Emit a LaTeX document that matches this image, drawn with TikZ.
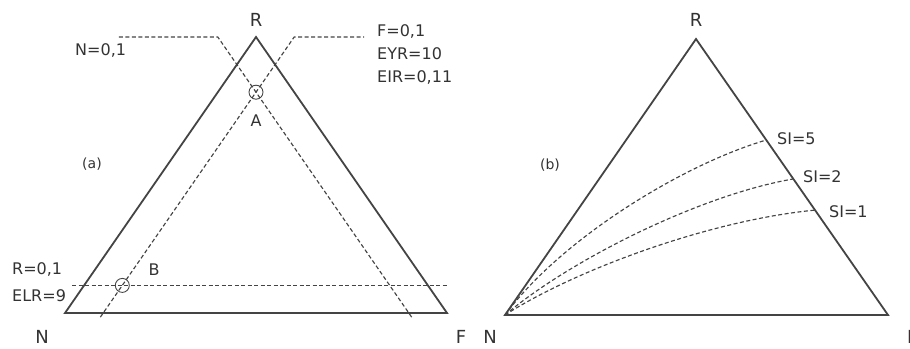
\documentclass[tikz,border=0pt]{standalone}
\usepackage{fontspec}
\setmainfont{DejaVu Sans}
\usepackage{xcolor}
\usetikzlibrary{calc,positioning}
\definecolor{ink}{HTML}{333333}
\definecolor{lne}{HTML}{444444}

\begin{document}
\begin{tikzpicture}[x=1pt, y=-1pt,
  tri/.style={draw=lne, line width=1.8pt},
  dsh/.style={draw=lne, line width=1.15pt, dash pattern=on 4pt off 2.5pt},
  ring/.style={draw=lne, line width=0.9pt},
  vlab/.style={font=\fontsize{18}{20}\selectfont, text=ink, inner sep=0pt},
  lab/.style={font=\fontsize{16}{23}\selectfont, text=ink, inner sep=0pt, align=left},
  tag/.style={font=\fontsize{14}{15}\selectfont, text=ink, inner sep=0pt}]
  \useasboundingbox (0,0) rectangle (910,348);
  % (a)
  \coordinate (N1) at (65,313);
  \coordinate (F1) at (447,313);
  \coordinate (R1) at (256,37);
  \draw[tri] (N1) -- (F1) -- (R1) -- cycle;
  \coordinate (fb) at ($(N1)!0.1!(F1)$);
  \coordinate (ft) at ($(fb)+(R1)-(N1)$);
  \coordinate (fe) at ($(ft)+(70,0)$);
  \coordinate (nb) at ($(F1)!0.1!(N1)$);
  \coordinate (nt) at ($(nb)+(R1)-(F1)$);
  \coordinate (ne) at ($(nt)+(-100,0)$);
  \coordinate (rl) at ($(N1)!0.1!(R1)$);
  \coordinate (re) at ($(rl)+(-12,0)$);
  \coordinate (A) at (intersection of fb--ft and nb--nt);
  \coordinate (B) at ($(rl)+(fb)-(N1)$);
  \draw[dsh] ($(fb)!-0.015!(ft)$) -- (ft) -- (fe);
  \draw[dsh] ($(nb)!-0.015!(nt)$) -- (nt) -- (ne);
  \draw[dsh] (re) -- (rl -| F1);
  \draw[ring] (A) circle (7);
  \draw[ring] (B) circle (7);
  \node[vlab] (lR1) at ($(R1)+(0,-17)$) {R};
  \node[vlab] (lN1) at ($(N1)+(-23,24)$) {N};
  \node[vlab] (lF1) at ($(F1)+(14,24)$) {F};
  \node[lab, anchor=base west] (nlab) at (75,55) {N=0,1};
  \node[lab, anchor=north west] (flab) at (377,24.5) {F=0,1\\EYR=10\\EIR=0,11};
  \node[lab, anchor=base west] (rlab) at (12,274) {R=0,1};
  \node[lab, anchor=base west] (elab) at (12,301) {ELR=9};
  \node[lab, anchor=base] (lA) at (256,126) {A};
  \node[lab, anchor=base] (lB) at (154,275) {B};
  \node[tag] (ta) at (92,164.5) {(a)};
  % (b)
  \begin{scope}[shift={(440,2)}]
    \coordinate (N2) at (65,313);
    \coordinate (F2) at (448,313);
    \coordinate (R2) at (256,37);
  \end{scope}
  \draw[tri] (N2) -- (F2) -- (R2) -- cycle;
  \coordinate (s5) at ($(R2)!0.366!(F2)$);
  \coordinate (s2) at ($(R2)!0.507!(F2)$);
  \coordinate (s1) at ($(R2)!0.62!(F2)$);
  \draw[dsh] (N2) .. controls +(55,-75) and +(-85,25) .. (s5);
  \draw[dsh] (N2) .. controls +(65,-55) and +(-93,16) .. (s2);
  \draw[dsh] (N2) .. controls +(70,-45) and +(-105,10) .. (s1);
  \node[vlab] (lR2) at ($(R2)+(0,-19)$) {R};
  \node[vlab] (lN2) at ($(N2)+(-15,22)$) {N};
  \node[vlab, anchor=west] (lF2) at ($(F2)+(19,22)$) {F};
  \node[lab, anchor=base west] (si5) at (777,144) {SI=5};
  \node[lab, anchor=base west] (si2) at (803,182) {SI=2};
  \node[lab, anchor=base west] (si1) at (829,217) {SI=1};
  \node[tag] (tb) at (550,165.5) {(b)};
\end{tikzpicture}
\end{document}
